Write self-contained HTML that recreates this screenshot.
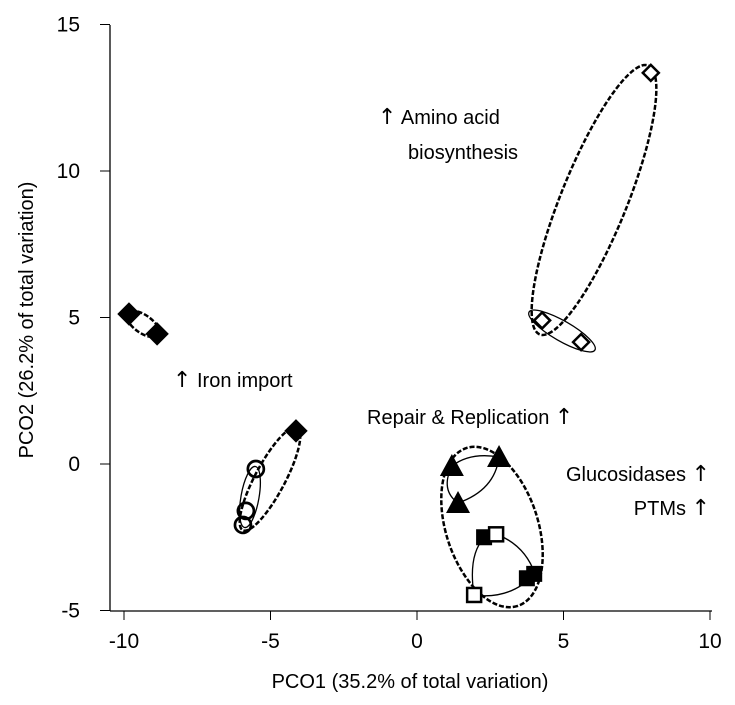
<!DOCTYPE html>
<html><head><meta charset="utf-8"><style>
body{margin:0;background:#fff}
svg text{font-family:"Liberation Sans",sans-serif;fill:#000}
.ar{font-family:"DejaVu Sans",sans-serif;font-size:22px}
</style></head><body>
<svg id="chart" width="735" height="700" xmlns="http://www.w3.org/2000/svg">
<g id="axes"></g>
<g id="ell" fill="none" stroke="#000"></g>
<g id="pts"></g>
<g id="lbl" font-size="20"></g>
</svg>
<script>
const xTicks=[-10,-5,0,5,10];
const yTicks=[-5,0,5,10,15];
const diamondsFilled=[[-9.83,5.12],[-8.87,4.44],[-4.13,1.13]];
const circlesOpen=[[-5.5,-0.17],[-5.84,-1.6],[-5.94,-2.08]];
const triangles=[[1.19,-0.07],[2.8,0.24],[1.4,-1.33]];
const squaresOpen=[[2.7,-2.4],[1.95,-4.47]];
const squaresFilled=[[2.29,-2.5],[3.75,-3.9],[4.0,-3.75]];
const diamondsOpen=[[4.27,4.9],[5.6,4.16],[7.98,13.35]];
const X=v=>417+v*29.3, Y=v=>464-v*29.3;
const NS="http://www.w3.org/2000/svg";
function mk(p,t,a){const e=document.createElementNS(NS,t);for(const k in a)e.setAttribute(k,a[k]);p.appendChild(e);return e;}
const ax=document.getElementById('axes');
let l=mk(ax,'line',{x1:110,y1:25,x2:110,y2:611,stroke:'#000','stroke-width':1.3});


l=mk(ax,'line',{x1:110,y1:611,x2:712,y2:611,stroke:'#000','stroke-width':1.3});


xTicks.forEach(v=>{mk(ax,'line',{x1:X(v),x2:X(v),y1:611,y2:620,stroke:'#000'});
 const t=mk(ax,'text',{x:X(v),y:648,'text-anchor':'middle','font-size':21});t.textContent=v;
 
 });
yTicks.forEach(v=>{mk(ax,'line',{x1:100,x2:110,y1:Y(v),y2:Y(v),stroke:'#000'});
 const t=mk(ax,'text',{x:80,y:Y(v)+7,'text-anchor':'end','font-size':21});t.textContent=v;
 
 });
let t=mk(ax,'text',{x:410,y:688,'text-anchor':'middle','font-size':20});t.textContent='PCO1 (35.2% of total variation)';


t=mk(ax,'text',{x:0,y:0,'text-anchor':'middle','font-size':20,transform:'translate(33,320) rotate(-90)'});t.textContent='PCO2 (26.2% of total variation)';


const eg=document.getElementById('ell');
function ell(cx,cy,rx,ry,ang,dash,name){const e=mk(eg,'ellipse',{cx,cy,rx,ry,transform:`rotate(${ang} ${cx} ${cy})`,'stroke-width':dash?2.5:1.3});
 if(dash)e.setAttribute('stroke-dasharray','5 2');
 
 }
ell(594,200,145,33,-68,true,'amino-acid-group');
ell(562,331,38,10,30,false,'open-diamond-group');
ell(143,324,19,9,35,true,'iron-group');
ell(270,479,58,15,-62,true,'circle-diamond-group');
ell(250,497,31,9,-80,false,'circle-group');
ell(492,527,83,46,72,true,'triangle-square-group');
let p=mk(eg,'path',{d:'M452,466 Q470,452 499,457 Q495,490 458,503 Q440,490 452,466','stroke-width':1.3});


p=mk(eg,'path',{d:'M496,534 Q525,545 535,574 Q510,600 474,595 Q468,555 484,538','stroke-width':1.3});


const pg=document.getElementById('pts');
function dia(d,fill,name){const x=X(d[0]),y=Y(d[1]),s=fill?11:8;const e=mk(pg,'path',{d:`M${x},${y-s}L${x+s},${y}L${x},${y+s}L${x-s},${y}Z`,fill:fill?'#000':'#fff',stroke:'#000','stroke-width':fill?1:2.5});
 
 }
diamondsFilled.forEach(d=>dia(d,true,'filled-diamond'));
diamondsOpen.forEach(d=>dia(d,false,'open-diamond'));
circlesOpen.forEach(d=>{const e=mk(pg,'circle',{cx:X(d[0]),cy:Y(d[1]),r:8,fill:'none',stroke:'#000','stroke-width':2.7});
 
 });
triangles.forEach(d=>{const x=X(d[0]),y=Y(d[1]);const e=mk(pg,'path',{d:`M${x},${y-12}L${x+12},${y+10}L${x-12},${y+10}Z`,fill:'#000'});
 
 });
squaresFilled.forEach(d=>{const e=mk(pg,'rect',{x:X(d[0])-8,y:Y(d[1])-8,width:16,height:16,fill:'#000'});
 
 });
squaresOpen.forEach(d=>{const e=mk(pg,'rect',{x:X(d[0])-7,y:Y(d[1])-7,width:14,height:14,fill:'#fff',stroke:'#000','stroke-width':2.5});
 
 });
const lg=document.getElementById('lbl');
[['','↑',' Amino acid',378,124,'start','amino-acid-label'],['biosynthesis','','',408,159,'start','biosynthesis-label'],
 ['','↑',' Iron import',173,387,'start','iron-import-label'],['Repair & Replication ','↑','',367,424,'start','repair-label'],
 ['Glucosidases ','↑','',710,481,'end','glucosidases-label'],['PTMs ','↑','',710,515,'end','ptms-label']].forEach(a=>{
 const e=mk(lg,'text',{x:a[3],y:a[4],'text-anchor':a[5]});
 if(a[0])mk(e,'tspan',{}).textContent=a[0];
 if(a[1])mk(e,'tspan',{class:'ar'}).textContent=a[1];
 if(a[2])mk(e,'tspan',{}).textContent=a[2];
 
 });
</script>
</body></html>
